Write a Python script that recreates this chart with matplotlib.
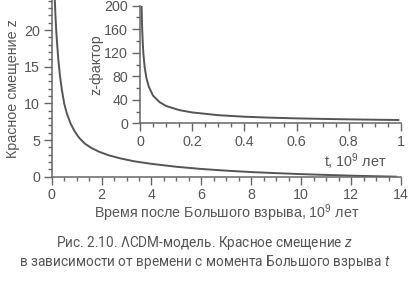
import numpy as np
import matplotlib.pyplot as plt
from matplotlib.ticker import MultipleLocator

# main curve: redshift vs time since Big Bang (10^9 years)
t_main = [0.125, 0.15, 0.18, 0.22, 0.27, 0.33, 0.4, 0.5, 0.6, 0.75, 0.9,
          1.1, 1.33, 1.6, 1.9, 2.3, 2.75, 3.3, 4.0, 5.0, 6.0, 7.0, 8.0,
          9.0, 10.0, 11.0, 12.0, 13.0, 13.8]
z_main = [24.1, 22.0, 20.0, 18.0, 15.8, 13.8, 12.0, 10.0, 8.7, 7.3, 6.3,
          5.3, 4.5, 3.9, 3.4, 2.9, 2.5, 2.1, 1.75, 1.35, 1.05, 0.82, 0.63,
          0.48, 0.35, 0.24, 0.14, 0.06, 0.0]

# inset: first 10^9 years
t_inset = [0.006, 0.0075, 0.009, 0.011, 0.013, 0.018, 0.025, 0.034, 0.05,
           0.075, 0.1, 0.15, 0.2, 0.3, 0.4, 0.5, 0.6, 0.7, 0.8, 0.9, 0.99]
z_inset = [200, 172, 153, 133, 118, 95, 76, 62, 47,
           36, 29.5, 22.5, 18.5, 13.8, 11.2, 9.6, 8.4, 7.5, 6.7, 6.1, 5.6]

caption1 = "Рис. 2.10. ΛCDM-модель. Красное смещение $z$"
caption2 = "в зависимости от времени с момента Большого взрыва $t$"

plt.rcParams['font.family'] = ['Liberation Sans', 'DejaVu Sans']
plt.rcParams['mathtext.fontset'] = 'custom'
plt.rcParams['mathtext.it'] = 'Roboto:italic'
plt.rcParams['mathtext.rm'] = 'Liberation Sans'

grey = "#666666"
text_grey = "#555555"
fs = 10.3


def style_axes(ax):
    for side in ["top", "right"]:
        ax.spines[side].set_visible(False)
    for side in ["left", "bottom"]:
        ax.spines[side].set_color(grey)
        ax.spines[side].set_linewidth(1.1)
    ax.tick_params(which="both", direction="out", color=grey, width=1.0,
                   labelcolor=text_grey, labelsize=fs, pad=2.5)
    ax.tick_params(which="major", length=6)
    ax.tick_params(which="minor", length=3)


fig = plt.figure(figsize=(4.09, 2.83), dpi=100)

ax = fig.add_axes([0.1264, 0.3757, 0.8540, 0.6244])
ax.plot(t_main, z_main, color="#555555", linewidth=1.4)
ax.set_xlim(0, 14)
ax.set_ylim(0, 24.1)
ax.xaxis.set_major_locator(MultipleLocator(2))
ax.xaxis.set_minor_locator(MultipleLocator(0.5))
ax.yaxis.set_major_locator(MultipleLocator(5))
ax.yaxis.set_minor_locator(MultipleLocator(1))
style_axes(ax)
ax.set_xlabel("Время после Большого взрыва, 10$^9$ лет", color=text_grey,
              fontsize=fs, labelpad=0)
ax.set_ylabel("Красное смещение z", color=text_grey, fontsize=fs, labelpad=3)

ins = fig.add_axes([0.3423, 0.5643, 0.638, 0.4155])
ins.patch.set_alpha(0)
ins.plot(t_inset, z_inset, color="#555555", linewidth=1.4)
ins.set_xlim(0, 1)
ins.set_ylim(0, 200)
ins.xaxis.set_major_locator(MultipleLocator(0.2))
ins.xaxis.set_minor_locator(MultipleLocator(0.05))
ins.yaxis.set_major_locator(MultipleLocator(40))
ins.yaxis.set_minor_locator(MultipleLocator(20))
ins.set_xticks([0, 0.2, 0.4, 0.6, 0.8, 1])
ins.set_xticklabels(["0", "0.2", "0.4", "0.6", "0.8", "1"])
style_axes(ins)
ins.set_ylabel("z-фактор", color=text_grey, fontsize=fs, labelpad=1)
ins.text(0.824, -0.33, "t, 10$^9$ лет", transform=ins.transAxes,
         ha="center", va="center", color=text_grey, fontsize=fs)

fig.text(0.5, 0.141, caption1, ha="center", va="center", color=text_grey,
         fontsize=9.8, family=["Roboto", "DejaVu Sans"])
fig.text(0.5, 0.074, caption2, ha="center", va="center", color=text_grey,
         fontsize=9.8, family=["Roboto", "DejaVu Sans"])

fig.savefig("out.png", dpi=100)
